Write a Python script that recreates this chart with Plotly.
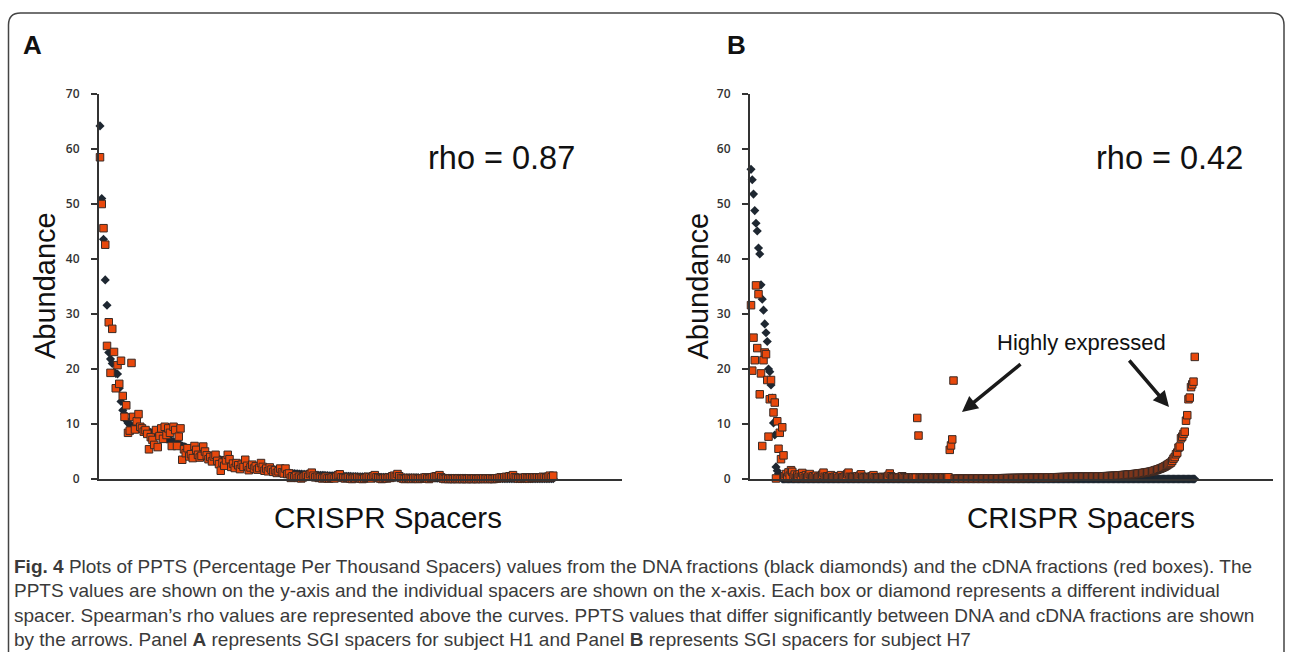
import plotly.graph_objects as go

W, H = 1293, 652

# ---------------- Panel A (subject H1) ----------------
a_dna = [
    64.2, 51.0, 43.6, 36.2, 31.6, 23.0, 21.8, 21.0, 19.4, 19.2,
    19.1, 16.5, 14.1, 12.5, 11.8, 10.7, 10.2, 9.9, 9.7, 9.5,
    9.4, 9.3, 9.2, 9.1, 9.0, 8.9, 8.8, 8.7, 8.6, 8.5,
    8.4, 8.3, 8.2, 8.0, 7.9, 7.8, 7.6, 7.5, 7.3, 7.2,
    7.0, 6.9, 6.8, 6.6, 6.5, 6.3, 6.2, 6.0, 5.9, 5.8,
    5.6, 5.5, 5.4, 5.2, 5.1, 5.0, 4.9, 4.8, 4.6, 4.5,
    4.4, 4.3, 4.2, 4.1, 4.0, 3.9, 3.8, 3.7, 3.6, 3.5,
    3.4, 3.3, 3.2, 3.1, 3.0, 2.95, 2.9, 2.8, 2.7, 2.6,
    2.5, 2.45, 2.4, 2.3, 2.2, 2.15, 2.1, 2.0, 1.95, 1.9,
    1.85, 1.8, 1.75, 1.7, 1.65, 1.6, 1.55, 1.5, 1.45, 1.4,
    1.35, 1.3, 1.28, 1.25, 1.2, 1.18, 1.15, 1.1, 1.08, 1.05,
    1.0, 0.98, 0.95, 0.93, 0.9, 0.88, 0.86, 0.84, 0.82, 0.8,
    0.78, 0.76, 0.74, 0.72, 0.7, 0.69, 0.68, 0.66, 0.65, 0.64,
    0.62, 0.6, 0.59, 0.58, 0.57, 0.56, 0.55, 0.54, 0.53, 0.52,
    0.5, 0.49, 0.48, 0.47, 0.46, 0.45, 0.44, 0.43, 0.42, 0.41,
    0.4, 0.39, 0.38, 0.37, 0.36, 0.35, 0.34, 0.33, 0.32, 0.31,
    0.3, 0.3, 0.29, 0.29, 0.28, 0.28, 0.27, 0.27, 0.26, 0.26,
    0.25, 0.25, 0.24, 0.24, 0.23, 0.23, 0.22, 0.22, 0.21, 0.21,
    0.2, 0.2, 0.2, 0.19, 0.19, 0.19, 0.18, 0.18, 0.18, 0.17,
    0.17, 0.17, 0.16, 0.16, 0.16, 0.15, 0.15, 0.15, 0.14, 0.14,
    0.14, 0.13, 0.13, 0.13, 0.12, 0.12, 0.12, 0.11, 0.11, 0.11,
    0.1, 0.1, 0.1, 0.1, 0.1, 0.09, 0.09, 0.09, 0.09, 0.09,
    0.08, 0.08, 0.08, 0.08, 0.08, 0.08, 0.08, 0.08, 0.08, 0.08,
    0.07, 0.07, 0.07, 0.07, 0.07, 0.07, 0.07, 0.07, 0.07, 0.07,
    0.06, 0.06, 0.06, 0.06, 0.06, 0.06, 0.06, 0.06, 0.06, 0.06,
    0.05, 0.05, 0.05, 0.05, 0.05, 0.05, 0.05, 0.05, 0.05, 0.05,
]

a_cdna = [
    58.5, 50.0, 45.6, 42.6, 24.2, 28.5, 19.3, 27.3, 23.1, 16.5,
    20.7, 17.3, 21.5, 15.1, 11.3, 13.4, 8.4, 8.8, 21.1, 11.3,
    9.0, 10.5, 11.8, 9.5, 9.2, 8.6, 8.9, 8.2, 5.4, 7.6,
    7.1, 6.2, 8.9, 5.8, 7.8, 9.2, 7.3, 9.5, 8.0, 9.2,
    8.4, 6.0, 9.5, 8.9, 6.0, 7.7, 9.2, 3.5, 5.4, 4.7,
    5.6, 4.1, 4.5, 3.8, 6.0, 5.3, 4.4, 3.9, 4.2, 5.9,
    5.0, 4.3, 3.6, 4.0, 3.2, 4.1, 4.4, 3.3, 2.7, 1.5,
    3.0, 2.4, 3.4, 4.4, 3.6, 2.2, 2.8, 2.0, 2.9, 2.5,
    1.8, 2.6, 2.2, 3.5, 2.4, 1.6, 2.1, 2.6, 1.9, 2.3,
    1.7, 2.0, 2.9, 2.2, 1.5, 1.9, 1.4, 2.1, 1.7, 1.3,
    1.6, 1.1, 1.4, 1.9, 1.2, 1.0, 1.9, 0.9, 1.0, 0.2,
    0.5, 0.3, 0.6, 0.2, 0.4, 0.1, 0.3, 0.5, 0.7, 0.4,
    0.9, 1.15, 0.6, 0.3, 0.4, 0.2, 0.3, 0.1, 0.2, 0.4,
    0.1, 0.1, 0.2, 0.3, 0.1, 0.4, 0.7, 0.85, 0.3, 0.2,
    0.1, 0.2, 0.3, 0.1, 0.0, 0.2, 0.1, 0.3, 0.2, 0.1,
    0.0, 0.1, 0.2, 0.4, 0.3, 0.1, 0.5, 0.7, 0.3, 0.2,
    0.1, 0.0, 0.1, 0.2, 0.1, 0.3, 0.2, 0.5, 0.6, 0.4,
    0.9, 0.5, 0.2, 0.1, 0.0, 0.1, 0.2, 0.1, 0.0, 0.1,
    0.2, 0.1, 0.0, 0.1, 0.1, 0.2, 0.3, 0.1, 0.0, 0.2,
    0.3, 0.4, 0.5, 0.4, 0.7, 0.3, 0.1, 0.0, 0.1, 0.0,
    0.1, 0.0, 0.0, 0.1, 0.0, 0.1, 0.0, 0.0, 0.1, 0.0,
    0.0, 0.1, 0.0, 0.0, 0.1, 0.0, 0.0, 0.1, 0.0, 0.1,
    0.0, 0.1, 0.0, 0.1, 0.0, 0.0, 0.1, 0.1, 0.2, 0.3,
    0.2, 0.3, 0.4, 0.3, 0.5, 0.4, 0.7, 0.3, 0.2, 0.1,
    0.2, 0.1, 0.2, 0.3, 0.2, 0.1, 0.3, 0.2, 0.3, 0.2,
    0.3, 0.2, 0.3, 0.4, 0.3, 0.2, 0.4, 0.6, 0.3, 0.6,
]

# ---------------- Panel B (subject H7) ----------------
b_dna = [
    56.3, 54.4, 51.8, 48.8, 46.5, 45.1, 42.0, 40.9, 35.3, 32.7,
    30.7, 28.2, 26.6, 25.0, 20.0, 19.5, 17.1, 14.7, 10.2, 8.0,
    2.2, 1.5, 1.0, 0.6, 0.3, 0, 0, 0, 0, 0,
    0, 0, 0, 0, 0, 0, 0, 0, 0, 0,
    0, 0, 0, 0, 0, 0, 0, 0, 0, 0,
    0, 0, 0, 0, 0, 0, 0, 0, 0, 0,
    0, 0, 0, 0, 0, 0, 0, 0, 0, 0,
    0, 0, 0, 0, 0, 0, 0, 0, 0, 0,
    0, 0, 0, 0, 0, 0, 0, 0, 0, 0,
    0, 0, 0, 0, 0, 0, 0, 0, 0, 0,
    0, 0, 0, 0, 0, 0, 0, 0, 0, 0,
    0, 0, 0, 0, 0, 0, 0, 0, 0, 0,
    0, 0, 0, 0, 0, 0, 0, 0, 0, 0,
    0, 0, 0, 0, 0, 0, 0, 0, 0, 0,
    0, 0, 0, 0, 0, 0, 0, 0, 0, 0,
    0, 0, 0, 0, 0, 0, 0, 0, 0, 0,
    0, 0, 0, 0, 0, 0, 0, 0, 0, 0,
    0, 0, 0, 0, 0, 0, 0, 0, 0, 0,
    0, 0, 0, 0, 0, 0, 0, 0, 0, 0,
    0, 0, 0, 0, 0, 0, 0, 0, 0, 0,
    0, 0, 0, 0, 0, 0, 0, 0, 0, 0,
    0, 0, 0, 0, 0, 0, 0, 0, 0, 0,
    0, 0, 0, 0, 0, 0, 0, 0, 0, 0,
    0, 0, 0, 0, 0, 0, 0, 0, 0, 0,
    0, 0, 0, 0, 0, 0, 0, 0, 0, 0,
    0, 0, 0, 0, 0, 0, 0, 0, 0, 0,
    0, 0, 0, 0, 0, 0, 0, 0, 0, 0,
    0, 0, 0, 0, 0, 0, 0, 0, 0, 0,
    0, 0, 0, 0, 0, 0, 0, 0, 0, 0,
    0, 0, 0, 0, 0, 0, 0, 0, 0, 0,
    0, 0, 0, 0, 0, 0, 0, 0, 0, 0,
    0, 0, 0, 0, 0, 0, 0, 0, 0, 0,
    0, 0, 0, 0, 0, 0, 0, 0, 0, 0,
    0, 0, 0, 0, 0, 0, 0, 0, 0, 0,
    0, 0, 0, 0, 0, 0, 0, 0, 0, 0,
    0, 0, 0, 0, 0, 0,
]

b_cdna = [
    31.6, 19.7, 25.7, 21.6, 35.2, 23.8, 33.6, 15.4, 19.2, 6.0,
    21.6, 23.0, 22.7, 18.0, 7.7, 14.5, 18.0, 14.7, 12.1, 13.9,
    0.1, 10.5, 5.5, 8.4, 3.6, 9.4, 4.3, 0.5, 0.9, 0.3,
    1.2, 0.6, 1.6, 1.3, 0.4, 0.8, 0.2, 0.6, 0.3, 0.9,
    0.4, 1.1, 0.5, 0.2, 0.7, 0.3, 0.5, 0.9, 0.4, 0.2,
    0.5, 0.3, 0.6, 0.2, 0.4, 0.3, 0.5, 0.8, 1.15, 0.4,
    0.2, 0.5, 0.3, 0.4, 0.7, 0.3, 0.2, 0.4, 0.3, 0.5,
    0.2, 0.4, 0.7, 0.3, 0.2, 0.4, 0.6, 0.9, 1.15, 0.4,
    0.3, 0.2, 0.4, 0.3, 0.2, 0.5, 0.3, 0.6, 0.85, 0.4,
    0.2, 0.3, 0.2, 0.4, 0.3, 0.2, 0.4, 0.5, 0.7, 0.3,
    0.2, 0.3, 0.2, 0.3, 0.2, 0.4, 0.3, 0.2, 0.3, 0.4,
    0.6, 1.0, 0.5, 0.3, 0.2, 0.3, 0.2, 0.3, 0.2, 0.3,
    0.4, 0.5, 0.3, 0.2, 0.3, 0.2, 0.2, 0.3, 0.2, 0.2,
    0.3, 0.2, 0.25, 11.1, 7.9, 0.2, 0.3, 0.2, 0.2, 0.3,
    0.2, 0.2, 0.3, 0.2, 0.2, 0.2, 0.3, 0.2, 0.2, 0.2,
    0.3, 0.2, 0.2, 0.2, 0.3, 0.2, 0.2, 0.3, 0.3, 5.3,
    6.1, 7.2, 17.9, 0.05, 0.05, 0.05, 0.06, 0.06, 0.06, 0.06,
    0.07, 0.07, 0.07, 0.07, 0.08, 0.08, 0.08, 0.08, 0.09, 0.09,
    0.09, 0.09, 0.1, 0.1, 0.1, 0.1, 0.1, 0.11, 0.11, 0.11,
    0.11, 0.12, 0.12, 0.12, 0.12, 0.12, 0.13, 0.13, 0.13, 0.13,
    0.14, 0.14, 0.14, 0.15, 0.15, 0.15, 0.16, 0.16, 0.16, 0.17,
    0.17, 0.17, 0.18, 0.18, 0.18, 0.19, 0.19, 0.19, 0.2, 0.2,
    0.2, 0.21, 0.21, 0.21, 0.22, 0.22, 0.22, 0.23, 0.23, 0.23,
    0.24, 0.24, 0.25, 0.25, 0.26, 0.26, 0.27, 0.27, 0.28, 0.3,
    0.3, 0.3, 0.31, 0.31, 0.32, 0.32, 0.33, 0.33, 0.34, 0.34,
    0.35, 0.35, 0.36, 0.36, 0.37, 0.37, 0.38, 0.38, 0.39, 0.39,
    0.4, 0.4, 0.4, 0.41, 0.41, 0.41, 0.42, 0.42, 0.42, 0.43,
    0.43, 0.43, 0.44, 0.44, 0.44, 0.45, 0.45, 0.45, 0.45, 0.46,
    0.47, 0.48, 0.49, 0.5, 0.51, 0.52, 0.53, 0.54, 0.55, 0.56,
    0.57, 0.58, 0.6, 0.62, 0.64, 0.66, 0.68, 0.7, 0.72, 0.74,
    0.76, 0.78, 0.8, 0.82, 0.84, 0.86, 0.88, 0.9, 0.93, 0.96,
    0.99, 1.02, 1.05, 1.08, 1.11, 1.15, 1.19, 1.23, 1.27, 1.3,
    1.36, 1.42, 1.48, 1.55, 1.62, 1.7, 1.78, 1.86, 1.95, 2.05,
    2.15, 2.27, 2.4, 2.55, 2.7, 2.85, 3.0, 3.3, 3.7, 4.0,
    4.5, 4.8, 5.7, 5.9, 7.4, 7.7, 8.2, 8.6, 10.6, 11.6,
    14.5, 14.8, 16.7, 17.2, 17.7, 22.2,
]

y_ticks = [0, 10, 20, 30, 40, 50, 60, 70]
rho_a = "rho = 0.87"
rho_b = "rho = 0.42"
caption_lines = [
    "<b>Fig. 4</b> Plots of PPTS (Percentage Per Thousand Spacers) values from the DNA fractions (black diamonds) and the cDNA fractions (red boxes). The",
    "PPTS values are shown on the y-axis and the individual spacers are shown on the x-axis. Each box or diamond represents a different individual",
    "spacer. Spearman\u2019s rho values are represented above the curves. PPTS values that differ significantly between DNA and cDNA fractions are shown",
    "by the arrows. Panel <b>A</b> represents SGI spacers for subject H1 and Panel <b>B</b> represents SGI spacers for subject H7",
]

assert len(a_dna) == len(a_cdna), (len(a_dna), len(a_cdna))
assert len(b_dna) == len(b_cdna), (len(b_dna), len(b_cdna))

a_x = list(range(1, len(a_dna) + 1))
b_x = list(range(1, len(b_dna) + 1))


def fx(p):
    return p / W


def fy(p):
    return 1 - p / H


DIAMOND = dict(symbol="diamond", size=7, color="#1e2731", line=dict(width=0))
SQUARE = dict(symbol="square", size=7.5, color="#e8480c", line=dict(width=1, color="#3b2a24"))

fig = go.Figure()
fig.add_trace(go.Scatter(x=a_x, y=a_dna, mode="markers", marker=DIAMOND,
                         xaxis="x", yaxis="y", cliponaxis=False, hoverinfo="skip"))
fig.add_trace(go.Scatter(x=a_x, y=a_cdna, mode="markers", marker=SQUARE,
                         xaxis="x", yaxis="y", cliponaxis=False, hoverinfo="skip"))
fig.add_trace(go.Scatter(x=b_x, y=b_dna, mode="markers", marker=DIAMOND,
                         xaxis="x2", yaxis="y2", cliponaxis=False, hoverinfo="skip"))
fig.add_trace(go.Scatter(x=b_x, y=b_cdna, mode="markers", marker=SQUARE,
                         xaxis="x2", yaxis="y2", cliponaxis=False, hoverinfo="skip"))

# pixel layout of the two panels
a_left, a_right, a_first, a_step = 99, 622, 100, 1.75
b_left, b_right, b_first, b_step = 750, 1273, 751, 1.25
y_bottom, y_top = 479, 94

xcommon = dict(showline=True, linewidth=2, linecolor="#333333", showticklabels=False,
               ticks="", showgrid=False, zeroline=False, fixedrange=True, automargin=False)
ycommon = dict(range=[0, 70], tickvals=y_ticks, showline=True, linewidth=2,
               linecolor="#333333", ticks="outside", ticklen=6, tickwidth=1.5,
               tickcolor="#333333", showgrid=False, zeroline=False, automargin=False,
               tickfont=dict(family="Open Sans", size=12, color="#333333", weight=600),
               domain=[fy(y_bottom), fy(y_top)], ticklabelstandoff=9, fixedrange=True)

fig.update_layout(
    width=W, height=H, autosize=False,
    margin=dict(l=0, r=0, t=0, b=0, pad=0),
    paper_bgcolor="white", plot_bgcolor="white", showlegend=False,
    xaxis=dict(xcommon, domain=[fx(a_left), fx(a_right)], anchor="y",
               range=[1 + (a_left - a_first) / a_step, 1 + (a_right - a_first) / a_step]),
    yaxis=dict(ycommon, anchor="x"),
    xaxis2=dict(xcommon, domain=[fx(b_left), fx(b_right)], anchor="y2",
                range=[1 + (b_left - b_first) / b_step, 1 + (b_right - b_first) / b_step]),
    yaxis2=dict(ycommon, anchor="x2"),
)

BIG = "Liberation Sans"
ann = []


def text(t, x, y, size, color="#111111", angle=0, xanchor="center", bold=False, family=BIG):
    ann.append(dict(text=(f"<b>{t}</b>" if bold else t), x=fx(x), y=fy(y), xref="paper", yref="paper",
                    showarrow=False, xanchor=xanchor, yanchor="middle", textangle=angle,
                    font=dict(family=family, size=size, color=color)))


text("A", 32, 45, 26, bold=True)
text("B", 736, 45, 26, bold=True)
text("Abundance", 45, 286, 29, angle=-90)
text("Abundance", 697.5, 286, 29, angle=-90)
text("CRISPR Spacers", 388, 517, 29.5)
text("CRISPR Spacers", 1081, 517, 29.5)
text(rho_a, 501, 158, 32.5)
text(rho_b, 1169, 158, 32.5)
text("Highly expressed", 1081, 342, 22)

for i, line in enumerate(caption_lines):
    text(line, 12, 566 + i * 24.6, 19, color="#3a3a3a", xanchor="left")

# arrows
for tip, tail in [((962, 412), (1022, 363)), ((1169, 407), (1128, 359))]:
    ann.append(dict(text="", x=fx(tip[0]), y=fy(tip[1]), xref="paper", yref="paper",
                    ax=tail[0] - tip[0], ay=tail[1] - tip[1], showarrow=True,
                    arrowhead=2, arrowwidth=3.5, arrowsize=0.9, arrowcolor="#1a1a1a"))

fig.update_layout(annotations=ann)

# rounded frame
r = 12
path = (f"M {fx(8.5)},{fy(652)} L {fx(8.5)},{fy(13 + r)} Q {fx(8.5)},{fy(13)} {fx(8.5 + r)},{fy(13)} "
        f"L {fx(1284 - r)},{fy(13)} Q {fx(1284)},{fy(13)} {fx(1284)},{fy(13 + r)} L {fx(1284)},{fy(652)}")
fig.add_shape(type="path", path=path, xref="paper", yref="paper",
              line=dict(color="#444444", width=1.5))

fig.write_html(
    "out.html",
    config={"displayModeBar": False, "staticPlot": True},
    post_script=(
        "document.documentElement.style.margin='0';document.documentElement.style.overflow='hidden';"
        "document.body.style.margin='0';document.body.style.padding='0';document.body.style.overflow='hidden';"
        "var gd=document.getElementById('{plot_id}');"
        "gd.style.position='fixed';gd.style.left='0px';gd.style.top='0px';"
    ),
)
